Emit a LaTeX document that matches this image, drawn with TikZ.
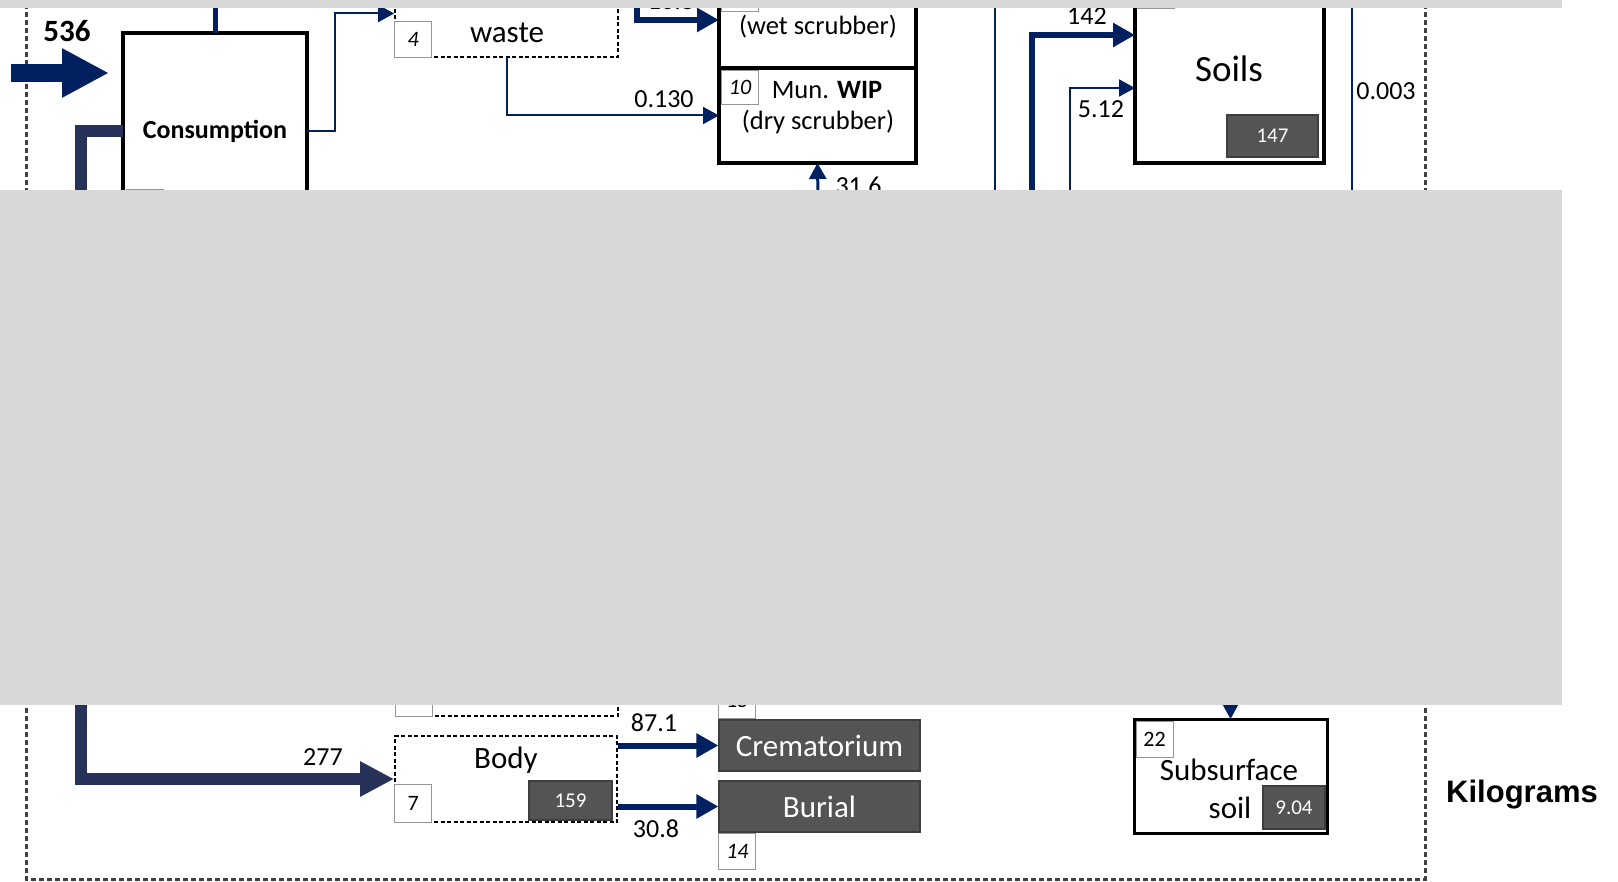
\documentclass[tikz,border=0pt]{standalone}
\usepackage{fontspec}
\setmainfont{Carlito}
\newfontfamily\kgfont{Liberation Sans}
\usetikzlibrary{arrows.meta,positioning}
\definecolor{flownavy}{RGB}{0,32,96}
\definecolor{flowslate}{RGB}{38,50,90}
\definecolor{stockgray}{RGB}{84,84,84}
\definecolor{stockedge}{RGB}{62,62,62}
\definecolor{idgray}{RGB}{150,150,150}
\definecolor{bordergray}{RGB}{64,64,64}
\definecolor{maskgray}{RGB}{216,216,216}
\newcommand{\fsmain}{\fontsize{31}{36}\selectfont}
\newcommand{\fssoil}{\fontsize{37}{42}\selectfont}
\newcommand{\fsmid}{\fontsize{26.5}{32}\selectfont}
\newcommand{\fslbl}{\fontsize{26}{30}\selectfont}
\newcommand{\fsstock}{\fontsize{21}{25}\selectfont}
\newcommand{\fsnum}{\fontsize{22}{26}\selectfont}
\newcommand{\fsbold}{\fontsize{26}{30}\selectfont\bfseries}
\tikzset{
  procbox/.style={draw=black, line width=4.5pt, fill=white, inner sep=0pt, outer sep=0pt},
  dashbox/.style={draw=black, line width=1.7pt, dash pattern=on 4pt off 2.5pt, fill=white, inner sep=0pt},
  numbox/.style={draw=idgray, line width=1pt, fill=white, inner sep=0pt, minimum width=37pt, minimum height=36pt, font=\fsnum},
  stockbox/.style={draw=stockedge, line width=1.2pt, fill=stockgray, text=white, inner sep=0pt},
  thinflow/.style={draw=flownavy, line width=2pt, -{Triangle[length=16pt,width=17pt]}},
  thickflow/.style={draw=flownavy, line width=6pt, -{Triangle[length=22pt,width=23pt]}},
  flowlbl/.style={font=\fslbl},
}

\begin{document}
\begin{tikzpicture}[x=1pt, y=-1pt]
  \useasboundingbox (0,0) rectangle (1618,882);
  % --- system boundary
  \draw[bordergray, line width=3pt, dash pattern=on 5pt off 3pt] (26,-20) -- (26,879) -- (1425,879) -- (1425,-20);
  \node[font=\kgfont\bfseries\fontsize{31}{36}\selectfont] (unitlbl) at (1522,795) {Kilograms};

  % --- consumption
  \node[procbox, minimum width=184pt, minimum height=196pt] (consumption) at (215,131) {\fsbold Consumption};
  \node[numbox, anchor=north west] (nconsum) at (126,189) {};
  \coordinate (import) at (11,73);
  \coordinate (importtip) at (109,73);
  \draw[flownavy, line width=18pt, -{Triangle[length=47pt,width=46pt]}] (import) -- (importtip);
  \node[font=\fontsize{31}{36}\selectfont\bfseries] (importlbl) at (67,31) {536};
  \draw[flownavy, line width=5pt] (consumption.north) -- ++(0,-40);

  % --- waste
  \node[dashbox, minimum width=223pt, minimum height=87pt] (waste) at (506.5,13.5) {};
  \node[font=\fsmain] (wastetxt) at (507,33) {waste};
  \node[numbox, anchor=south west, font=\fsnum\itshape] (nwaste) at (waste.south west) {4};
  \draw[thinflow] (consumption.east) -- ++(28,0) |- (waste.west);

  % --- waste incineration
  \node[procbox, minimum width=197pt, minimum height=96pt] (wipwet) at (817.5,20) {};
  \node[procbox, minimum width=197pt, minimum height=95pt, anchor=north] (wipdry) at (wipwet.south) {};
  \node[numbox, anchor=south west] (nwet) at (721,12) {};
  \node[numbox, anchor=north west, minimum height=34pt, font=\fsnum\itshape] (ndry) at ([shift={(2,2)}]wipdry.north west) {10};
  \node[font=\fsmid] (wettxt) at (818,27) {(wet scrubber)};
  \node[font=\fsmid] (drytxt1) at (827,90) {Mun. \textbf{WIP}};
  \node[font=\fsmid] (drytxt2) at (818,122) {(dry scrubber)};
  \coordinate (wetsrc) at (637,-30);
  \draw[thickflow] (wetsrc) |- (wipwet.west);
  \node[flowlbl] (lblwet) at (671,1) {10.8};
  \draw[thinflow] (waste.south) |- (wipdry.west);
  \node[flowlbl] (lbldry) at (664,99) {0.130};
  \coordinate (drysrc) at (818,200);
  \draw[thinflow, line width=3pt] (drysrc) -- (wipdry.south);
  \node[flowlbl, anchor=west] (lblair) at (832,186) {31.6};

  % --- soils
  \node[procbox, minimum width=189pt, minimum height=193pt] (soils) at (1229.5,66.5) {};
  \node[font=\fssoil] (soilstxt) at (1229,69) {Soils};
  \node[numbox, anchor=south west] (nsoils) at (1137,9) {};
  \node[stockbox, minimum width=91pt, minimum height=42pt, font=\fsstock] (soilstock) at (1272.5,136) {147};
  \coordinate (ltop) at (995,-10);
  \coordinate (lbot) at (995,200);
  \draw[flownavy, line width=2pt] (ltop) -- (lbot);
  \coordinate (rtop) at (1352,-10);
  \coordinate (rbot) at (1352,200);
  \draw[flownavy, line width=2pt] (rtop) -- (rbot);
  \node[flowlbl] (lblright) at (1386,91) {0.003};
  \coordinate (src142) at (1032,200);
  \draw[thickflow] (src142) |- (soils.west |- 0,35);
  \node[flowlbl] (lbl142) at (1087,16) {142};
  \coordinate (src512) at (1070,200);
  \draw[thinflow] (src512) |- (soils.west |- 0,88);
  \node[flowlbl] (lbl512) at (1101,109) {5.12};

  % --- body and disposal
  \node[dashbox, minimum width=222pt, minimum height=67pt, anchor=south west] (bodyabove) at (395,717) {};
  \node[numbox, anchor=south west] (nabove) at (bodyabove.south west) {};
  \node[dashbox, minimum width=222pt, minimum height=86pt] (body) at (506,779) {};
  \node[font=\fsmain] (bodytxt) at (506,760) {Body};
  \node[numbox, anchor=south west, minimum height=38pt] (nbody) at (body.south west) {7};
  \node[stockbox, minimum width=83pt, minimum height=39pt, font=\fsstock] (bodystock) at (570.5,800.5) {159};
  \draw[flowslate, line width=12pt, -{Triangle[length=34pt,width=33pt]}] (consumption.west) -- ++(-42,0) |- (body.west);
  \node[flowlbl] (lbl277) at (323,757) {277};

  \node[stockbox, minimum width=201pt, minimum height=51pt, font=\fsmain] (cremat) at (819.5,745.5) {Crematorium};
  \node[stockbox, minimum width=201pt, minimum height=51pt, font=\fsmain] (burial) at (819.5,806.5) {Burial};
  \node[numbox, anchor=south west, font=\fsnum\itshape] (ncremat) at (cremat.north west) {15};
  \node[numbox, anchor=north west, font=\fsnum\itshape] (nburial) at (burial.south west) {14};
  \draw[thickflow] (body.east |- cremat.west) -- (cremat.west);
  \draw[thickflow] (body.east |- burial.west) -- (burial.west);
  \node[flowlbl] (lbl871) at (654,723) {87.1};
  \node[flowlbl] (lbl308) at (656,829) {30.8};

  % --- subsurface soil
  \node[procbox, line width=3pt, minimum width=193pt, minimum height=114pt] (subsoil) at (1230.5,776) {};
  \node[numbox, anchor=north west] (nsubsoil) at ([shift={(1.5,1.5)}]subsoil.north west) {22};
  \node[font=\fsmain] (subsoiltxt1) at (1229,770) {Subsurface};
  \node[font=\fsmain] (subsoiltxt2) at (1230,808) {soil};
  \node[stockbox, minimum width=62pt, minimum height=43pt, font=\fsstock] (subsoilstock) at (1294,807.5) {9.04};
  \coordinate (subsrc) at (1230.5,690);
  \draw[thinflow] (subsrc) -- (subsoil.north);

  % --- hidden parts
  \fill[maskgray] (0,0) rectangle (1562,8.3);
  \fill[maskgray] (0,190) rectangle (1562,705);
\end{tikzpicture}
\end{document}
